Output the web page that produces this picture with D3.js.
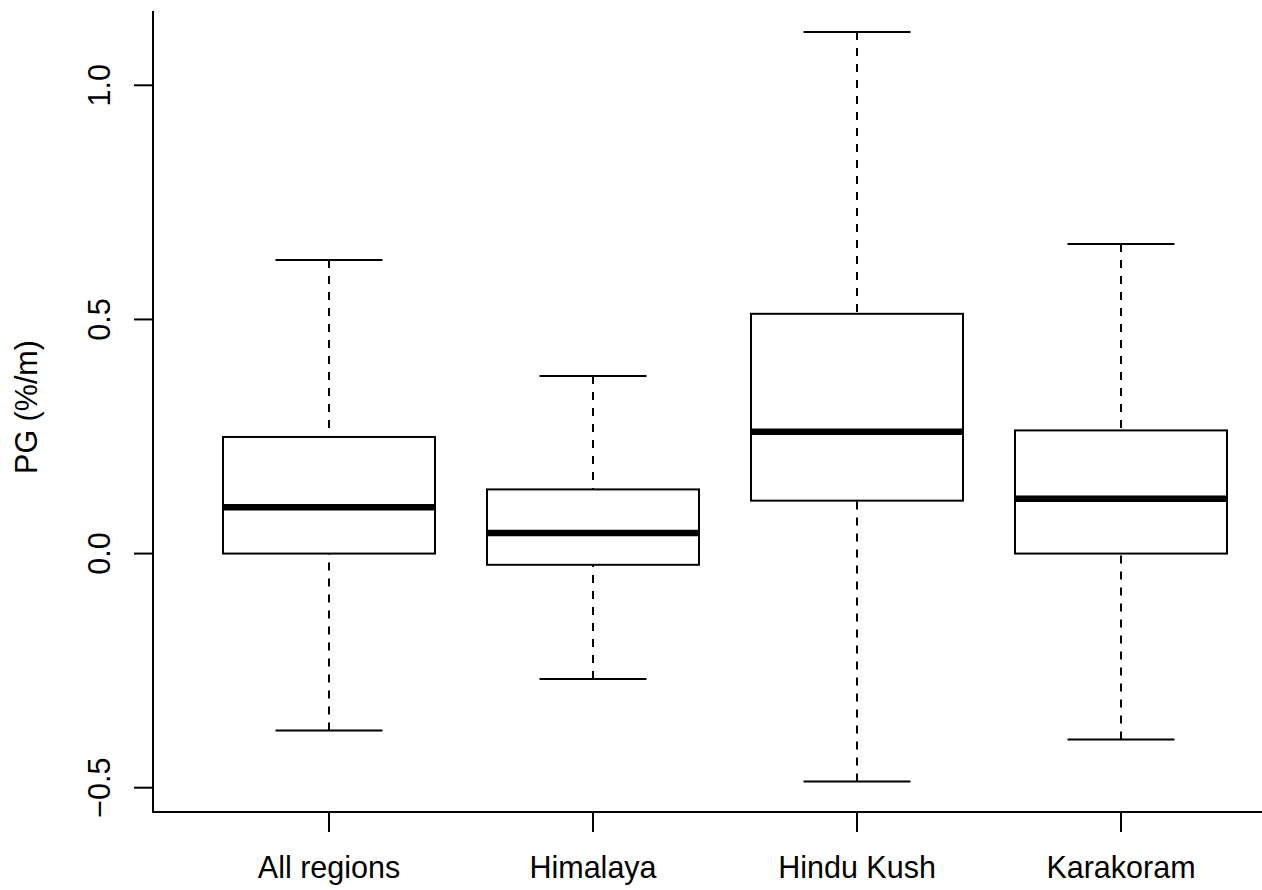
<!DOCTYPE html>
<html>
<head>
<meta charset="utf-8">
<script src="https://cdn.jsdelivr.net/npm/d3@7"></script>
<style>
  body { margin: 0; background: #fff; }
  svg { display: block; }
  text { font-family: "Liberation Sans", Arial, sans-serif; fill: #000; }
</style>
</head>
<body>
<svg id="container" width="1262" height="890"></svg>
<script>
const regions = ["All regions", "Himalaya", "Hindu Kush", "Karakoram"];
const whiskerLow = [-0.378, -0.268, -0.487, -0.397];
const q1 = [0.0, -0.024, 0.113, 0.0];
const median = [0.099, 0.044, 0.260, 0.117];
const q3 = [0.249, 0.137, 0.512, 0.263];
const whiskerHigh = [0.627, 0.379, 1.114, 0.661];
const yTicks = [-0.5, 0.0, 0.5, 1.0];

const svg = d3.select('#container');

const plotLeft = 153, plotRight = 1262, plotTop = 11, plotBottom = 812;
const fontSize = '30.5px';

const xScale = d3.scaleLinear().domain([1, 4]).range([329, 1121]);
const yScale = d3.scaleLinear().domain([-0.5, 1.0]).range([787.7, 85.3]);

const boxW = 212;
const capW = 107;

// axes lines (R style: left + bottom)
svg.append('line')
    .attr('x1', plotLeft).attr('x2', plotLeft)
    .attr('y1', plotTop).attr('y2', plotBottom)
    .attr('stroke', '#000').attr('stroke-width', 2);
svg.append('line')
    .attr('x1', plotLeft - 1).attr('x2', plotRight)
    .attr('y1', plotBottom).attr('y2', plotBottom)
    .attr('stroke', '#000').attr('stroke-width', 2);

// y ticks
const yt = svg.append('g');
yTicks.forEach(v => {
    yt.append('line')
        .attr('x1', plotLeft - 19).attr('x2', plotLeft)
        .attr('y1', yScale(v)).attr('y2', yScale(v))
        .attr('stroke', '#000').attr('stroke-width', 2);
    yt.append('text')
        .attr('transform', 'translate(110,' + yScale(v) + ') rotate(-90)')
        .attr('text-anchor', 'middle')
        .style('font-size', fontSize)
        .text(d3.format('.1f')(v).replace('-', '\u2212'));
});

// x ticks and labels
regions.forEach((r, i) => {
    const cx = xScale(i + 1);
    svg.append('line')
        .attr('x1', cx).attr('x2', cx)
        .attr('y1', plotBottom).attr('y2', plotBottom + 20)
        .attr('stroke', '#000').attr('stroke-width', 2);
    svg.append('text')
        .attr('x', cx).attr('y', 878)
        .attr('text-anchor', 'middle')
        .style('font-size', fontSize)
        .text(r);
});

// y label
svg.append('text')
    .attr('transform', 'translate(37,407) rotate(-90)')
    .attr('text-anchor', 'middle')
    .style('font-size', fontSize)
    .text('PG (%/m)');

// boxes
regions.forEach((r, i) => {
    const cx = xScale(i + 1);
    const g = svg.append('g');

    // whiskers
    g.append('line')
        .attr('x1', cx).attr('x2', cx)
        .attr('y1', yScale(whiskerHigh[i])).attr('y2', yScale(q3[i]))
        .attr('stroke', '#000').attr('stroke-width', 2)
        .attr('stroke-dasharray', '8,8');
    g.append('line')
        .attr('x1', cx).attr('x2', cx)
        .attr('y1', yScale(whiskerLow[i])).attr('y2', yScale(q1[i]))
        .attr('stroke', '#000').attr('stroke-width', 2)
        .attr('stroke-dasharray', '8,8');

    // caps
    [whiskerHigh[i], whiskerLow[i]].forEach(v => {
        g.append('line')
            .attr('x1', cx - capW / 2).attr('x2', cx + capW / 2)
            .attr('y1', yScale(v)).attr('y2', yScale(v))
            .attr('stroke', '#000').attr('stroke-width', 2);
    });

    // box
    g.append('rect')
        .attr('x', cx - boxW / 2).attr('width', boxW)
        .attr('y', yScale(q3[i]))
        .attr('height', yScale(q1[i]) - yScale(q3[i]))
        .attr('fill', '#fff')
        .attr('stroke', '#000').attr('stroke-width', 2);

    // median
    g.append('line')
        .attr('x1', cx - boxW / 2).attr('x2', cx + boxW / 2)
        .attr('y1', yScale(median[i])).attr('y2', yScale(median[i]))
        .attr('stroke', '#000').attr('stroke-width', 6.5);
});
</script>
</body>
</html>
